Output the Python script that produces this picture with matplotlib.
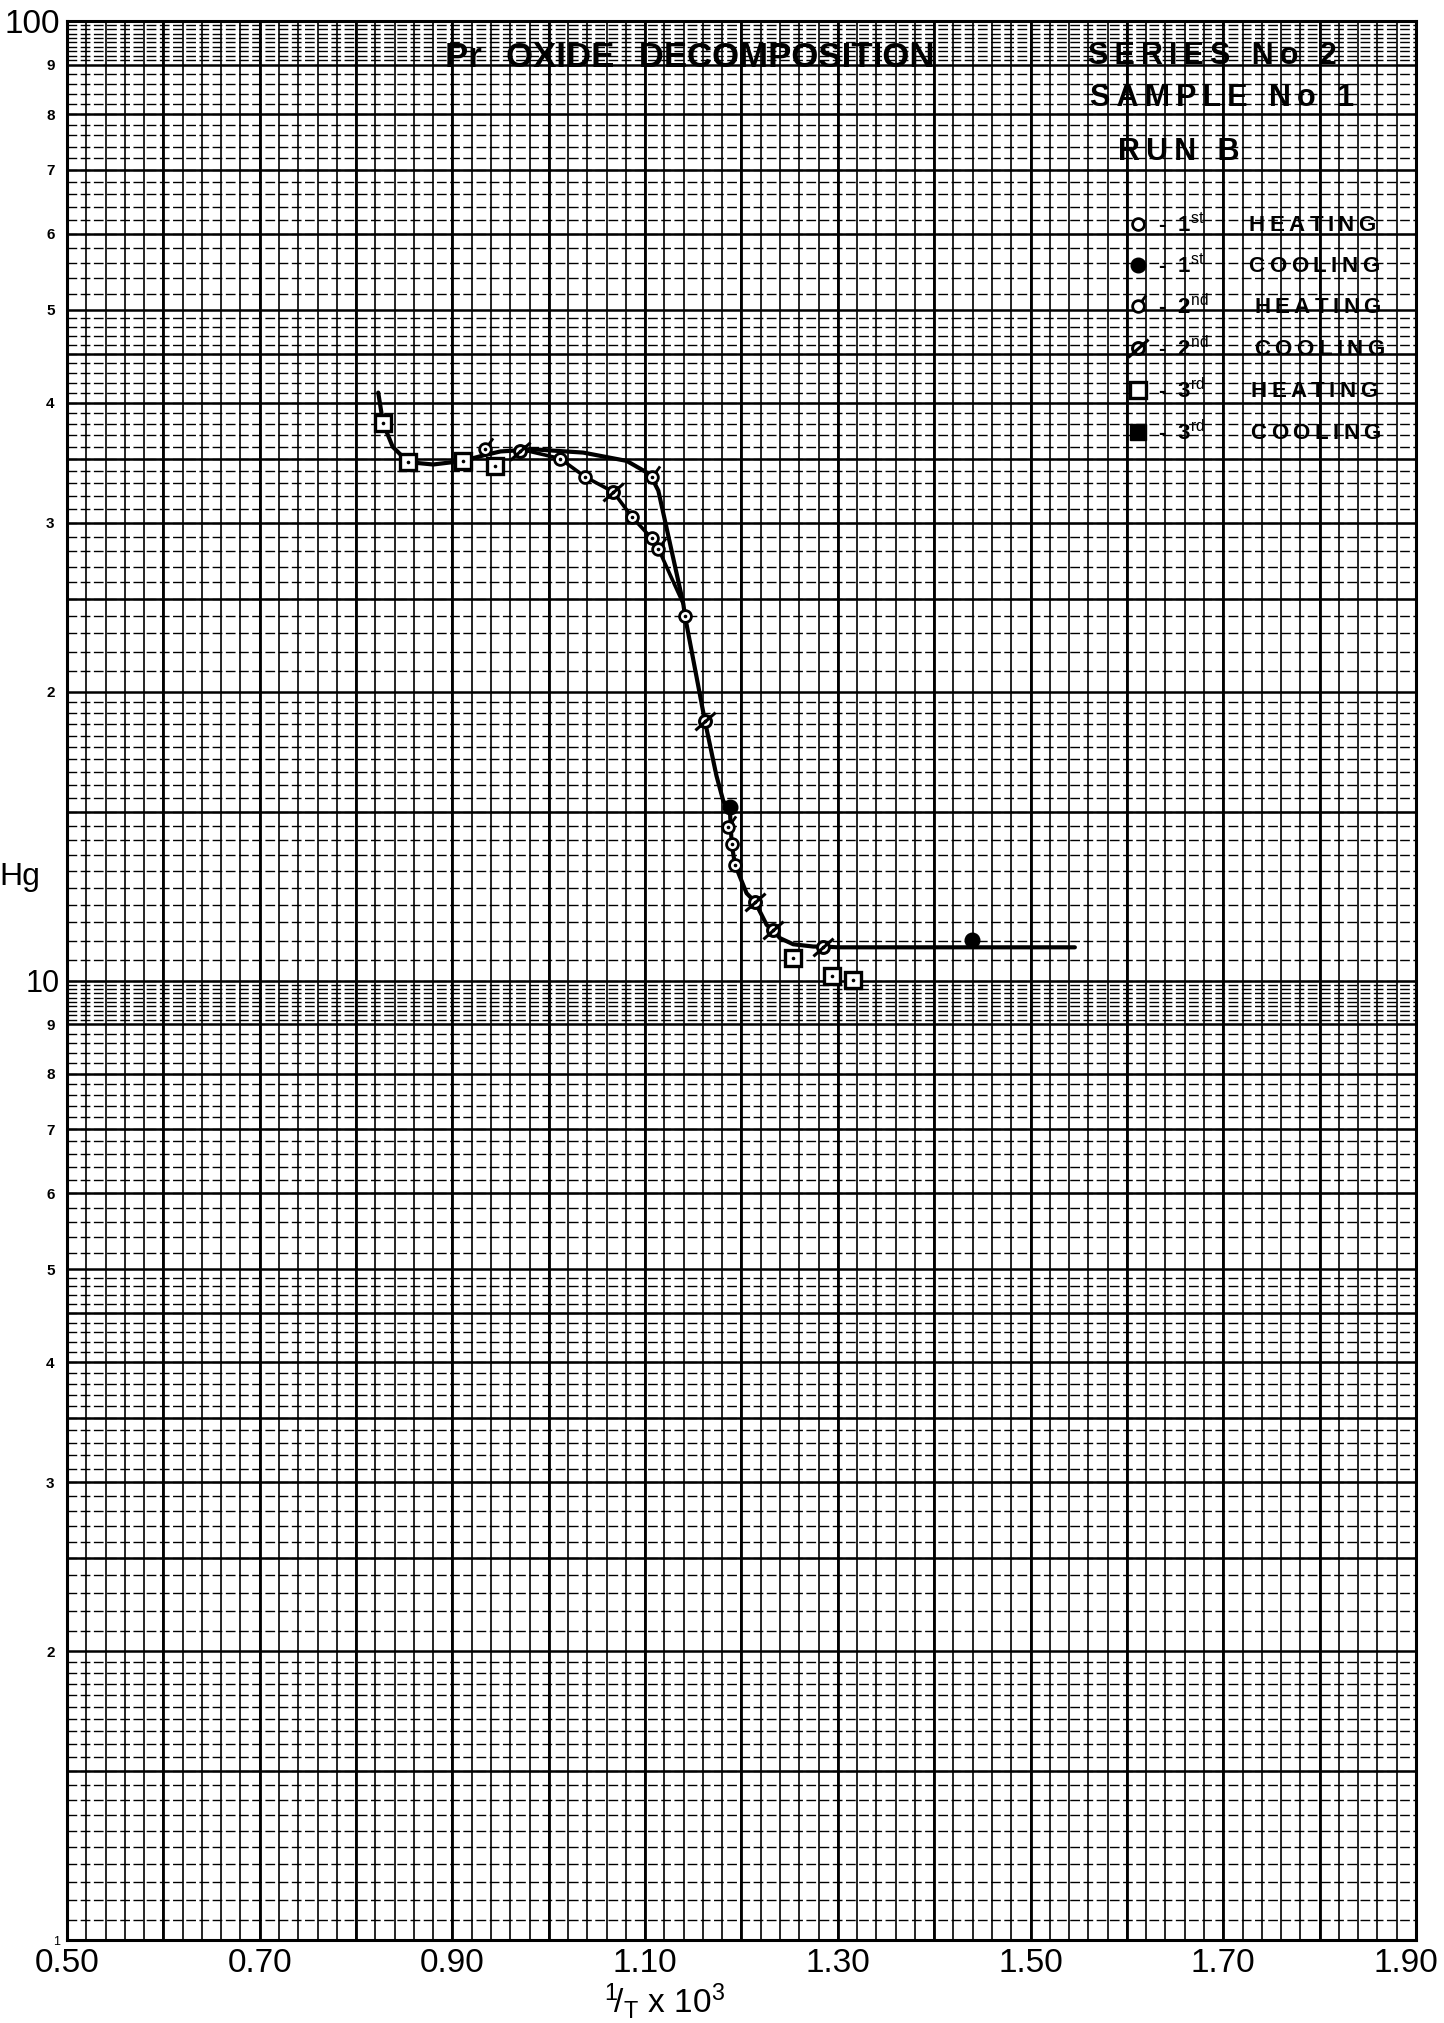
import numpy as np
import matplotlib
matplotlib.use("Agg")
import matplotlib.pyplot as plt
from matplotlib.path import Path
from matplotlib.transforms import ScaledTranslation

plt.rcParams['font.family'] = ['Liberation Sans', 'DejaVu Sans']
plt.rcParams['mathtext.fontset'] = 'custom'
plt.rcParams['mathtext.rm'] = 'Liberation Sans'
plt.rcParams['mathtext.it'] = 'Liberation Sans'
plt.rcParams['mathtext.bf'] = 'Liberation Sans:bold'

THIN = '\u2009'
EN = '\u2002'

# ---- measured points (1/T x 10^3, pressure mm Hg) ----
heat1_x = [1.0116, 1.0376, 1.086, 1.1067, 1.1413, 1.1898, 1.1932]
heat1_y = [35.0, 33.5, 30.45, 28.9, 24.0, 13.89, 13.21]
cool1_x = [1.188, 1.4389]
cool1_y = [15.16, 11.03]
heat2_x = [0.934, 1.1067, 1.1137, 1.1863]
heat2_y = [35.8, 33.5, 28.2, 14.45]
cool2_x = [0.970, 1.067, 1.162, 1.214, 1.2323, 1.2849]
cool2_y = [35.6, 32.3, 18.65, 12.08, 11.29, 10.85]
heat3_x = [0.828, 0.854, 0.911, 0.944, 1.2537, 1.2936, 1.316]
heat3_y = [38.1, 34.7, 34.8, 34.4, 10.56, 10.10, 10.02]
cool3_x = []
cool3_y = []

# ---- hand-drawn curves ----
curve_x = [0.823, 0.828, 0.838, 0.854, 0.88, 0.911, 0.934, 0.95, 0.97, 0.9805,
           1.0358, 1.0808, 1.105, 1.1137, 1.1396, 1.1413, 1.162, 1.174, 1.181,
           1.188, 1.1898, 1.1932, 1.2053, 1.214, 1.2261, 1.2323, 1.240, 1.2537,
           1.2745, 1.2849, 1.30, 1.546]
curve_y = [41.0, 38.1, 36.0, 34.7, 34.5, 34.8, 35.3, 35.6, 35.7, 35.8,
           35.5, 34.8, 33.7, 32.4, 24.7, 24.0, 18.65, 16.35, 15.4,
           15.0, 13.89, 13.21, 12.33, 12.08, 11.43, 11.29, 11.07, 10.91,
           10.85, 10.85, 10.83, 10.83]
branch_x = [0.97, 1.0116, 1.0376, 1.067, 1.086, 1.1067, 1.1137, 1.128, 1.1396]
branch_y = [35.8, 35.0, 33.5, 32.3, 30.45, 28.9, 28.2, 26.2, 24.7]

# ---- axis labels ----
xtick_vals = [0.50, 0.70, 0.90, 1.10, 1.30, 1.50, 1.70, 1.90]
xtick_labels = ['0.50', '0.70', '0.90', '1.10', '1.30', '1.50', '1.70', '1.90']
ytick_major = [1, 10, 100]
ytick_major_labels = ['1', '10', '100']
ytick_minor = [2, 3, 4, 5, 6, 7, 8, 9, 20, 30, 40, 50, 60, 70, 80, 90]
ytick_minor_labels = ['2', '3', '4', '5', '6', '7', '8', '9'] * 2

legend_ord = ['st', 'st', 'nd', 'nd', 'rd', 'rd']
legend_num = ['1', '1', '2', '2', '3', '3']
legend_word = ['HEATING', 'COOLING', 'HEATING', 'COOLING', 'HEATING', 'COOLING']


def spaced(s, gap=THIN, word_gap=EN + THIN):
    """Open up lettering the way a drafting template does."""
    return word_gap.join(gap.join(w) for w in s.split(' '))


legend_labels = [r'-  %s$^{\mathrm{%s}}$  ' % (n, o) + '\u2003\u2002' + spaced(w)
                 for n, o, w in zip(legend_num, legend_ord, legend_word)]

fig = plt.figure(figsize=(14.44, 20.23), dpi=100)
ax = fig.add_axes([0.0464, 0.0410, 0.9342, 0.9486])
ax.set_yscale('log')
ax.set_xlim(0.5, 1.9)
ax.set_ylim(1, 100)

# ---- graph-paper ruling ----
xt = ax.get_xaxis_transform()
yt = ax.get_yaxis_transform()
x_fine = np.round(np.arange(0.50, 1.9001, 0.02), 4)
x_heavy = np.round(np.arange(0.50, 1.9001, 0.10), 4)
ax.vlines(x_fine, 0, 1, transform=xt, color='black', lw=1.2, zorder=0.5)
ax.vlines(x_heavy, 0, 1, transform=xt, color='black', lw=2.0, zorder=0.6)

h_light, h_heavy = [], []
for dec in (1, 10):
    h_light += list(dec * np.arange(1.05, 2.0, 0.05))
    h_light += list(dec * np.arange(2.1, 5.0, 0.1))
    h_light += list(dec * np.arange(5.2, 9.0, 0.2))
    h_light += list(dec * np.arange(9.1, 10.0, 0.1))
    h_heavy += list(dec * np.arange(1, 10, 1.0))
    h_heavy += list(dec * np.array([2.5, 3.5, 4.5, 1.5]))
ax.hlines(h_light, 0, 1, transform=yt, color='black', lw=1.0,
          linestyles=(0, (7, 2.5)), zorder=0.5)
ax.hlines(h_heavy, 0, 1, transform=yt, color='black', lw=1.8, zorder=0.6)

for s in ax.spines.values():
    s.set_linewidth(2.2)

# ---- curves ----
ax.plot(curve_x, curve_y, color='black', lw=3.0, zorder=2, solid_capstyle='round')
ax.plot(branch_x, branch_y, color='black', lw=2.6, zorder=2, solid_capstyle='round')

# ---- markers ----
circ = Path.unit_circle()
tick = Path([[0.55, 0.85], [1.3, 1.9]], [Path.MOVETO, Path.LINETO])
slash = Path([[-1.7, -1.5], [1.7, 1.5]], [Path.MOVETO, Path.LINETO])
m_heat2 = Path.make_compound_path(circ, tick)
m_cool2 = Path.make_compound_path(circ, slash)

h1, = ax.plot(heat1_x, heat1_y, 'o', ms=8.5, mfc='white', mec='black', mew=2.0, zorder=3)
c1, = ax.plot(cool1_x, cool1_y, 'o', ms=10.5, mfc='black', mec='black', zorder=3)
h2, = ax.plot(heat2_x, heat2_y, linestyle='none', marker=m_heat2, ms=16,
              mfc='white', mec='black', mew=2.0, zorder=3)
c2, = ax.plot(cool2_x, cool2_y, linestyle='none', marker=m_cool2, ms=14.5,
              mfc='white', mec='black', mew=2.2, zorder=3)
h3, = ax.plot(heat3_x, heat3_y, 's', ms=11, mfc='white', mec='black', mew=2.4, zorder=3)
c3, = ax.plot(cool3_x, cool3_y, 's', ms=11, mfc='black', mec='black', zorder=3)
for xs_, ys_ in ((heat1_x, heat1_y), (heat2_x, heat2_y), (cool2_x, cool2_y), (heat3_x, heat3_y)):
    ax.plot(xs_, ys_, 'o', ms=1.6, color='black', zorder=4)

# ---- ticks ----
ax.set_xticks(xtick_vals, xtick_labels)
ax.tick_params(axis='x', which='both', length=0, pad=6, labelsize=24)
ax.set_yticks(ytick_major, ytick_major_labels)
ax.set_yticks(ytick_minor, ytick_minor_labels, minor=True)
ax.tick_params(axis='y', which='major', length=0, pad=5)
ax.tick_params(axis='y', which='minor', length=0, pad=9, labelsize=11)
for lab in ax.get_yticklabels(minor=True):
    lab.set_fontweight('bold')
sizes = {'1': 9, '10': 22, '100': 24}
for lab in ax.get_yticklabels():
    lab.set_fontsize(sizes.get(lab.get_text(), 20))
# keep the last x label inside the sheet
last = ax.get_xticklabels()[-1]
last.set_transform(last.get_transform() +
                   ScaledTranslation(-7 / 72, 0, fig.dpi_scale_trans))

ax.set_xlabel(r'$^{\mathrm{1}}\!/_{\mathrm{T}}$ x 10$^{\mathrm{3}}$', fontsize=24)
ax.xaxis.set_label_coords(0.443, -0.0215)
fig.text(0.028, 0.5665, 'Hg', fontsize=23, ha='right', va='center')

# ---- titles ----
ax.text(0.462, 0.981, 'Pr' + EN + THIN + 'OXIDE' + EN + THIN + 'DECOMPOSITION',
        transform=ax.transAxes, fontsize=25, fontweight='bold',
        ha='center', va='center')
ax.text(0.757, 0.982, spaced('SERIES No 2'), transform=ax.transAxes,
        fontsize=22, fontweight='bold', ha='left', va='center')
ax.text(0.758, 0.960, spaced('SAMPLE No 1'), transform=ax.transAxes,
        fontsize=22, fontweight='bold', ha='left', va='center')
ax.text(0.779, 0.932, spaced('RUN B'), transform=ax.transAxes,
        fontsize=22, fontweight='bold', ha='left', va='center')

leg = ax.legend([h1, c1, h2, c2, h3, c3], legend_labels, loc='upper left',
                bbox_to_anchor=(0.786, 0.900), frameon=False, fontsize=16,
                handlelength=1.0, handletextpad=0.4, labelspacing=0.75,
                borderpad=0, borderaxespad=0)
for t in leg.get_texts():
    t.set_fontweight('bold')

fig.savefig('out.png', dpi=100)
